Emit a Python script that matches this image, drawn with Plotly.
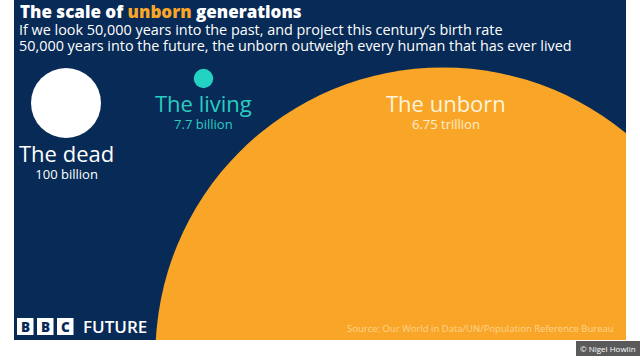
import plotly.graph_objects as go
import math

# ---- data ----
groups = ["The dead", "The living", "The unborn"]
values_billion = [100, 7.7, 6750]
value_labels = ["100 billion", "7.7 billion", "6.75 trillion"]

title_parts = ["The scale of ", "unborn", " generations"]
subtitle_lines = [
    "If we look 50,000 years into the past, and project this century\u2019s birth rate",
    "50,000 years into the future, the unborn outweigh every human that has ever lived",
]
source_text = "Source: Our World in Data/UN/Population Reference Bureau"
credit_text = "\u00a9 Nigel Howlin"

# ---- layout / style ----
W, H = 640, 360
PX0, PX1, PY0, PY1 = 14, 626, 0, 340
NAVY = "#072a56"
ORANGE = "#f9a628"
TEAL = "#2bcdc1"
FONT = "Open Sans"

centers_x = [66, 203.5, 443]
centers_y = [103, 78.5, 355]
circle_colors = ["#ffffff", "#22d3c3", ORANGE]
px_per_sqrt_billion = 3.5

label_pos = [(66, 160.5), (203, 110.5), (446, 110.5)]
label_colors = [("#ffffff", "#ffffff"), (TEAL, TEAL), ("#fff4dc", "#ffeccb")]

sizes = [2 * px_per_sqrt_billion * math.sqrt(v) for v in values_billion]

fig = go.Figure()
fig.add_trace(go.Scatter(
    x=centers_x, y=centers_y, mode="markers",
    marker=dict(size=sizes, sizemode="diameter", color=circle_colors,
                line=dict(width=0), opacity=1),
    hoverinfo="text", text=[f"{g}: {l}" for g, l in zip(groups, value_labels)],
    cliponaxis=True, showlegend=False,
))

ann = []
# title
ann.append(dict(
    x=18, y=11, xanchor="left", yanchor="middle",
    text=f"{title_parts[0]}<span style='color:{ORANGE}'>{title_parts[1]}</span>{title_parts[2]}",
    font=dict(family=FONT, size=17, color="#ffffff", weight=800),
))
for i, line in enumerate(subtitle_lines):
    ann.append(dict(x=17, y=29 + 16 * i, xanchor="left", yanchor="middle", text=line,
                    font=dict(family=FONT, size=14.4, color="#ffffff")))

for g, vl, (lx, ly), (c1, c2) in zip(groups, value_labels, label_pos, label_colors):
    ann.append(dict(
        x=lx, y=ly, xanchor="center", yanchor="middle", align="center",
        text=f"<span style='font-size:22px;font-weight:500;color:{c1}'>{g}</span><br>"
             f"<span style='font-weight:500;color:{c2}'>{vl}</span>",
        font=dict(family=FONT, size=13, color=c2),
    ))

# BBC logo blocks
shapes = []
for i, letter in enumerate(["B", "B", "C"]):
    x0 = 17 + 20 * i
    shapes.append(dict(type="rect", xref="x", yref="y", x0=x0, x1=x0 + 16.5, y0=318, y1=335,
                       fillcolor="#ffffff", line=dict(width=0), layer="above"))
    ann.append(dict(x=x0 + 8.25, y=326.8, xanchor="center", yanchor="middle", text=letter,
                    font=dict(family=FONT, size=13.5, color=NAVY, weight=800)))
ann.append(dict(x=81, y=326.5, xanchor="left", yanchor="middle", text="FUTURE",
                font=dict(family=FONT, size=17, color="#ffffff", weight=600)))
ann.append(dict(x=616, y=328, xanchor="right", yanchor="middle", text=source_text,
                font=dict(family=FONT, size=9.5, color="#fdd390")))

# credit box (outside the panel, paper coords)
def px2paper_x(px):
    return (px - PX0) / (PX1 - PX0)

def px2paper_y(py):
    return 1 - (py - PY0) / (PY1 - PY0)

shapes.append(dict(type="rect", xref="paper", yref="paper",
                   x0=px2paper_x(576), x1=px2paper_x(640), y0=px2paper_y(356), y1=px2paper_y(341),
                   fillcolor="#5a5a5a", line=dict(width=0)))
ann.append(dict(xref="paper", yref="paper", x=px2paper_x(608), y=px2paper_y(348.5),
                xanchor="center", yanchor="middle", text=credit_text,
                font=dict(family=FONT, size=8, color="#ffffff")))

for a in ann:
    a.setdefault("xref", "x")
    a.setdefault("yref", "y")
    a["showarrow"] = False

fig.update_layout(
    width=W, height=H,
    margin=dict(l=PX0, r=W - PX1, t=PY0, b=H - PY1, pad=0),
    paper_bgcolor="#ffffff", plot_bgcolor=NAVY,
    xaxis=dict(range=[PX0, PX1], visible=False, fixedrange=True),
    yaxis=dict(range=[PY1, PY0], visible=False, fixedrange=True),
    annotations=ann, shapes=shapes,
)

fig.write_html("out.html", config={"displayModeBar": False})
